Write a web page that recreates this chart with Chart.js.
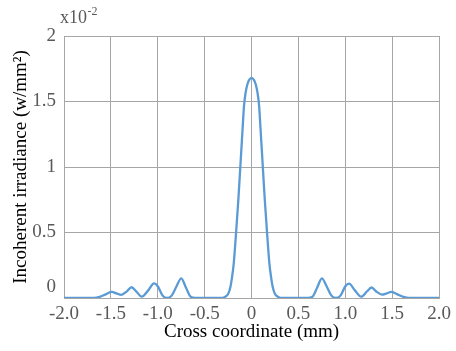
<!DOCTYPE html>
<html>
<head>
<meta charset="utf-8">
<script src="https://cdn.jsdelivr.net/npm/chart.js@4.4.0/dist/chart.umd.min.js"></script>
<style>
  body { margin: 0; background: #fff; }
  #chart { display: block; }
</style>
</head>
<body>
<canvas id="chart" width="456" height="351"></canvas>
<script>
// cross coordinate (mm) and irradiance (x10^-2 w/mm2)
const xValues = [
  -2.0, -1.8, -1.68, -1.62, -1.55, -1.49, -1.44, -1.39, -1.33, -1.28, -1.23, -1.17,
  -1.10, -1.04, -1.0, -0.95, -0.90, -0.85, -0.80, -0.75, -0.70, -0.65, -0.60, -0.31,
  -0.28, -0.25, -0.225, -0.21, -0.19, -0.165, -0.14, -0.115, -0.095, -0.08, -0.065, -0.045,
  -0.025,
  0,
  0.025, 0.045, 0.065, 0.08, 0.095, 0.115, 0.14, 0.165, 0.19, 0.21, 0.225, 0.25,
  0.28, 0.31, 0.60, 0.65, 0.70, 0.75, 0.80, 0.85, 0.90, 0.95, 1.0, 1.04,
  1.10, 1.17, 1.23, 1.28, 1.33, 1.39, 1.44, 1.49, 1.55, 1.62, 1.68, 1.8,
  2.0
];
const irradiance = [
  0, 0, 0, 0.008, 0.03, 0.046, 0.035, 0.024, 0.05, 0.082, 0.05, 0.01,
  0.06, 0.112, 0.09, 0.02, 0, 0.02, 0.09, 0.15, 0.08, 0.01, 0, 0,
  0.01, 0.03, 0.086, 0.15, 0.265, 0.5, 0.76, 1.06, 1.3, 1.47, 1.56, 1.63,
  1.665,
  1.68,
  1.665, 1.63, 1.56, 1.47, 1.3, 1.06, 0.76, 0.5, 0.265, 0.15, 0.086, 0.03,
  0.01, 0, 0, 0.01, 0.08, 0.15, 0.09, 0.02, 0, 0.02, 0.09, 0.11,
  0.06, 0.01, 0.05, 0.08, 0.05, 0.026, 0.035, 0.047, 0.03, 0.008, 0, 0,
  0
];
const xTicks = [-2.0, -1.5, -1.0, -0.5, 0, 0.5, 1.0, 1.5, 2.0];
const yTicks = [0, 0.5, 1, 1.5, 2];

const points = xValues.map((x, i) => ({ x: x, y: irradiance[i] }));

const gridColor = '#a6a6a6';
const tickColor = '#595959';
const serif = '"Liberation Serif", "DejaVu Serif", serif';

const exponentLabel = {
  id: 'exponentLabel',
  afterDraw(chart) {
    const ctx = chart.ctx;
    ctx.save();
    ctx.fillStyle = tickColor;
    ctx.textBaseline = 'alphabetic';
    ctx.textAlign = 'left';
    ctx.font = '18px ' + serif;
    ctx.fillText('x10', 60, 23);
    const w = ctx.measureText('x10').width;
    ctx.font = '12px ' + serif;
    ctx.fillText('-2', 60 + w + 0.5, 15);
    ctx.restore();
  }
};

new Chart(document.getElementById('chart'), {
  type: 'scatter',
  data: {
    datasets: [{
      data: points,
      showLine: true,
      borderColor: '#5b9bd5',
      borderWidth: 2.3,
      pointRadius: 0,
      cubicInterpolationMode: 'monotone',
      fill: false
    }]
  },
  options: {
    responsive: false,
    animation: false,
    layout: { padding: { top: 36, right: 15, left: 0, bottom: 0 } },
    plugins: {
      legend: { display: false },
      tooltip: { enabled: false }
    },
    scales: {
      x: {
        type: 'linear',
        min: -2,
        max: 2,
        afterBuildTicks: (scale) => { scale.ticks = xTicks.map(v => ({ value: v })); },
        afterFit: (scale) => { scale.height = 53; },
        grid: { color: gridColor, drawTicks: false },
        border: { color: gridColor },
        ticks: {
          color: tickColor,
          font: { family: serif, size: 19 },
          padding: 5,
          maxRotation: 0,
          callback: (v) => v === 0 ? '0' : v.toFixed(1)
        },
        title: {
          display: true,
          text: 'Cross coordinate (mm)',
          color: '#000',
          font: { family: serif, size: 19 },
          padding: { top: 0, bottom: 8 }
        }
      },
      y: {
        type: 'linear',
        min: 0,
        max: 2,
        afterBuildTicks: (scale) => { scale.ticks = yTicks.map(v => ({ value: v })); },
        afterFit: (scale) => { scale.width = 64; },
        grid: { color: gridColor, drawTicks: false },
        border: { color: gridColor },
        ticks: {
          color: tickColor,
          font: { family: serif, size: 19 },
          padding: 8,
          // the zero label sits a little above the baseline, as in the source
          callback: (v) => v === 0 ? ['0', ''] : String(v)
        },
        title: {
          display: true,
          text: 'Incoherent irradiance (w/mm²)',
          color: '#000',
          font: { family: serif, size: 19 },
          padding: { top: 10, bottom: 0 }
        }
      }
    }
  },
  plugins: [exponentLabel]
});
</script>
</body>
</html>
